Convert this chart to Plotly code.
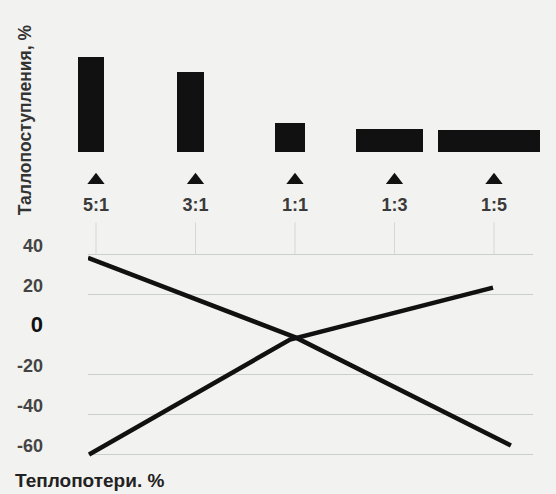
import plotly.graph_objects as go

# ---- data ----
ratios = ["5:1", "3:1", "1:1", "1:3", "1:5"]
heat_gain = [96, 81, 29, 23, 22]            # bar heights (relative)
bar_widths = [0.27, 0.28, 0.30, 0.68, 1.03]   # bar widths (category units)

loss_a_x = [-0.08, 2.01, 4.17]
loss_a_y = [38.5, -1.5, -55.5]
loss_b_x = [-0.07, 1.95, 3.99]
loss_b_y = [-60, -2.5, 23.5]

y_ticks = [40, 20, 0, -20, -40, -60]
y_grid = [40, 20, -20, -40, -60]

W, H = 556, 494
cat_x = list(range(len(ratios)))
FONT = "Liberation Sans, Arial, sans-serif"
INK = "#111111"
BG = "#f2f2f0"

def fx(px):
    return px / W

def fy(px):
    return 1 - px / H

# pixel mapping of categories: px = 96 + 99.5 * x
def xr(px):
    return (px - 96) / 99.5

fig = go.Figure()

# bars (top panel)
fig.add_trace(go.Bar(
    x=cat_x, y=heat_gain, width=bar_widths,
    offset=[-w / 2 - 0.05 for w in bar_widths],
    marker=dict(color=INK, line=dict(width=0)),
    xaxis="x", yaxis="y", showlegend=False, hoverinfo="skip",
))

# arrows
fig.add_trace(go.Scatter(
    x=cat_x, y=[-29] * len(cat_x), mode="markers",
    marker=dict(symbol="triangle-up", size=15, color=INK),
    xaxis="x", yaxis="y", showlegend=False, hoverinfo="skip",
))

# ratio labels
fig.add_trace(go.Scatter(
    x=cat_x, y=[-56] * len(cat_x), mode="text", text=ratios,
    textfont=dict(family=FONT, size=18, color="#3a3a3a", weight="bold"),
    xaxis="x", yaxis="y", showlegend=False, hoverinfo="skip",
))

# faint connector lines
vx, vy = [], []
for c in cat_x:
    vx += [c, c, None]
    vy += [-72, -104, None]
fig.add_trace(go.Scatter(
    x=vx, y=vy, mode="lines", line=dict(color="#d6d6d6", width=1),
    xaxis="x", yaxis="y", showlegend=False, hoverinfo="skip", cliponaxis=False,
))

# heat loss lines (bottom panel)
for xs, ys in [(loss_a_x, loss_a_y), (loss_b_x, loss_b_y)]:
    fig.add_trace(go.Scatter(
        x=xs, y=ys, mode="lines", line=dict(color=INK, width=4.5),
        xaxis="x2", yaxis="y2", showlegend=False, hoverinfo="skip",
    ))

tick_text = [('<span style="font-size:22px;fill:#111">%d</span>' % v) if v == 0 else str(v)
             for v in y_ticks]

bot_dom = [fy(465), fy(240)]
bot_rng = [(332 - 465) / 2.03, (332 - 240) / 2.03]

fig.update_layout(
    width=W, height=H,
    margin=dict(l=0, r=0, t=0, b=0),
    paper_bgcolor=BG, plot_bgcolor="rgba(0,0,0,0)",
    bargap=0,
    xaxis=dict(domain=[fx(60), fx(550)], range=[xr(60), xr(550)],
               visible=False, anchor="y"),
    yaxis=dict(domain=[fy(255), fy(10)], range=[146 - 255, 146 - 10],
               visible=False, anchor="x"),
    xaxis2=dict(domain=[fx(88), fx(533)], range=[xr(88), xr(533)],
                visible=False, anchor="y2"),
    yaxis2=dict(domain=bot_dom, range=bot_rng, anchor="x2",
                tickmode="array", tickvals=y_ticks, ticktext=tick_text,
                showgrid=False, zeroline=False, showline=False, ticks="",
                ticklabelshift=-9, ticklabelstandoff=44,
                tickfont=dict(family=FONT, size=18, color="#444444", weight="bold")),
    yaxis3=dict(domain=bot_dom, range=bot_rng, overlaying="y2", anchor="x2",
                tickmode="array", tickvals=y_grid, showticklabels=False,
                showgrid=True, gridcolor="#c9cfcc", gridwidth=1,
                zeroline=False, showline=False, ticks=""),
    annotations=[
        dict(text="Таллопоступления, %", x=fx(25), y=fy(114),
             xref="paper", yref="paper", textangle=-90, showarrow=False,
             xanchor="center", yanchor="middle",
             font=dict(family=FONT, size=17.5, color="#333333", weight="bold")),
        dict(text="Теплопотери. %", x=fx(13), y=fy(480),
             xref="paper", yref="paper", xanchor="left", yanchor="middle",
             showarrow=False,
             font=dict(family=FONT, size=19, color="#222222", weight="bold")),
    ],
)

# put grid axis trace so yaxis3 renders
fig.add_trace(go.Scatter(x=[None], y=[None], xaxis="x2", yaxis="y3",
                         showlegend=False, hoverinfo="skip"))

fig.write_html(
    "out.html",
    config={"displayModeBar": False, "staticPlot": True},
    post_script=("document.documentElement.style.margin='0';"
                 "document.body.style.margin='0';document.body.style.padding='0';"
                 "document.body.style.overflow='hidden';"
                 "document.body.style.background='%s';window.scrollTo(0,0);" % BG),
)
